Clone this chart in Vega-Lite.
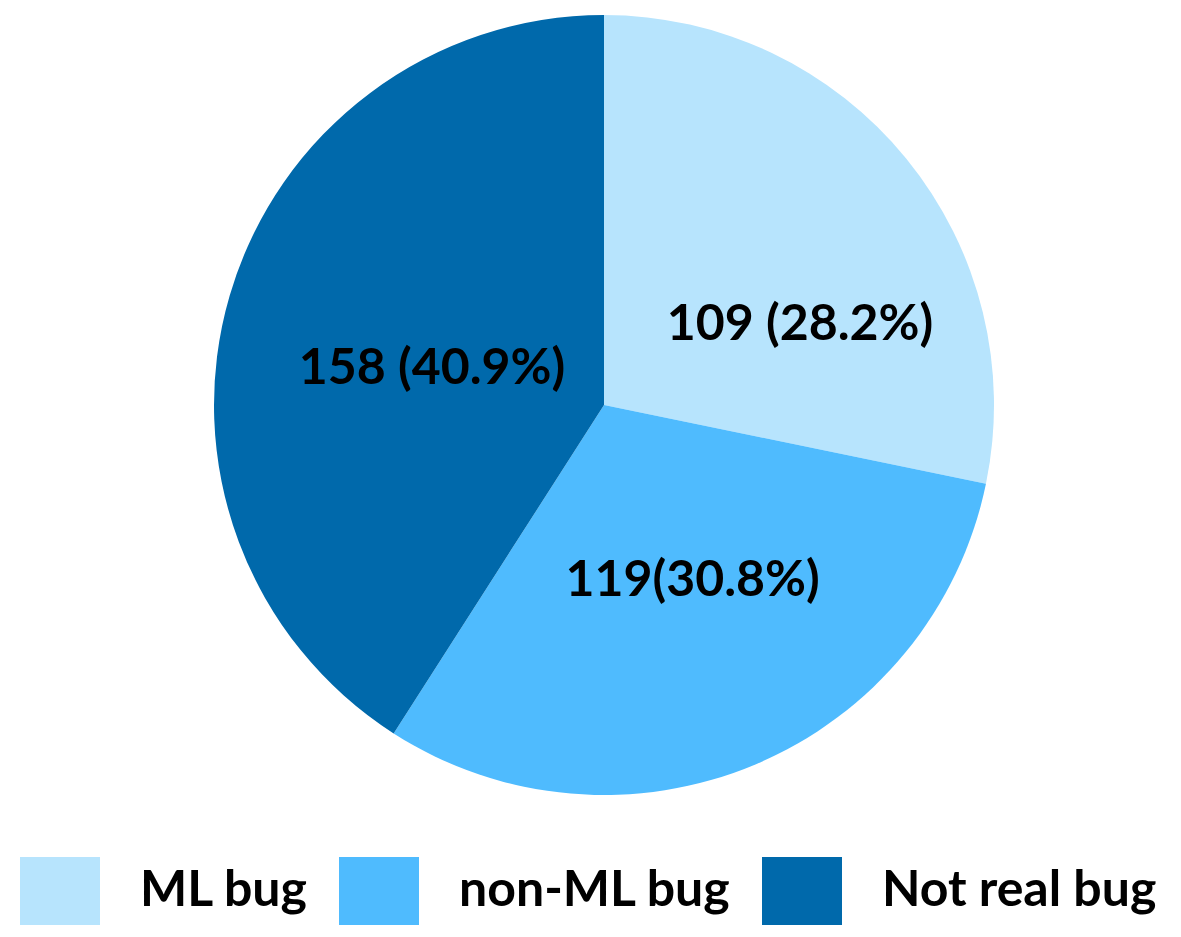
{
  "$schema": "https://vega.github.io/schema/vega-lite/v6.json",
  "width": 1168,
  "height": 810,
  "padding": {"left": 20, "top": 0, "right": 0, "bottom": 127},
  "autosize": {"type": "none"},
  "background": "white",
  "data": {"values": [
    {"category": "ML bug", "count": 109, "label": "109 (28.2%)", "idx": 1},
    {"category": "non-ML bug", "count": 119, "label": "119(30.8%)", "idx": 2},
    {"category": "Not real bug", "count": 158, "label": "158 (40.9%)", "idx": 3}
  ]},
  "encoding": {
    "theta": {"field": "count", "type": "quantitative", "stack": true},
    "order": {"field": "idx", "type": "quantitative"}
  },
  "layer": [
    {
      "mark": {"type": "arc", "outerRadius": 390},
      "encoding": {
        "color": {
          "field": "category",
          "type": "nominal",
          "sort": ["ML bug", "non-ML bug", "Not real bug"],
          "scale": {"domain": ["ML bug", "non-ML bug", "Not real bug"], "range": ["#B7E4FD", "#4FBBFE", "#0069AB"]},
          "legend": {
            "title": null,
            "orient": "none",
            "direction": "horizontal",
            "columns": 3,
            "legendX": 0,
            "legendY": 851,
            "symbolType": "M-1,-0.85H1V0.85H-1Z",
            "symbolSize": 6400,
            "symbolStrokeWidth": 0,
            "symbolOpacity": 1,
            "labelFont": "Lato",
            "labelFontWeight": "bold",
            "labelFontSize": 50,
            "labelColor": "black",
            "labelOffset": 40,
            "labelLimit": 0,
            "columnPadding": 30,
            "padding": 0
          }
        }
      }
    },
    {
      "mark": {"type": "text", "radius": 200, "font": "Lato", "fontWeight": "bold", "fontSize": 50, "dx": 41, "dy": 46},
      "encoding": {
        "text": {"field": "label"},
        "opacity": {"condition": {"test": "datum.category === 'ML bug'", "value": 1}, "value": 0}
      }
    },
    {
      "mark": {"type": "text", "radius": 200, "font": "Lato", "fontWeight": "bold", "fontSize": 50, "dx": 11, "dy": -8},
      "encoding": {
        "text": {"field": "label"},
        "opacity": {"condition": {"test": "datum.category === 'non-ML bug'", "value": 1}, "value": 0}
      }
    },
    {
      "mark": {"type": "text", "radius": 200, "font": "Lato", "fontWeight": "bold", "fontSize": 50, "dx": 20, "dy": 20},
      "encoding": {
        "text": {"field": "label"},
        "opacity": {"condition": {"test": "datum.category === 'Not real bug'", "value": 1}, "value": 0}
      }
    }
  ],
  "view": {"stroke": null}
}
